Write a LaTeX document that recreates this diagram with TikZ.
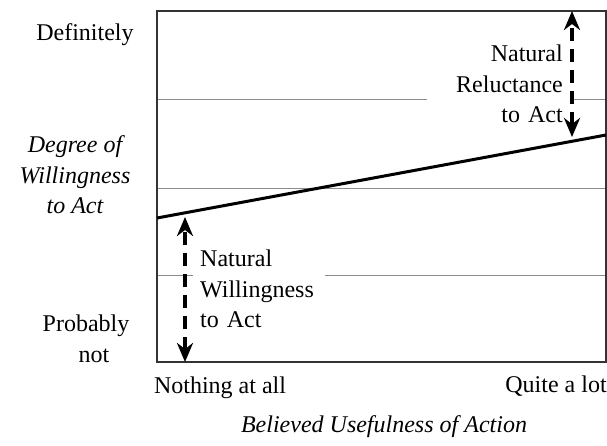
\documentclass[tikz,border=0pt]{standalone}
\usepackage{fontspec}
\setmainfont{Liberation Serif}
\usepackage{tikz}
\usetikzlibrary{arrows.meta,positioning}

\begin{document}
\begin{tikzpicture}[
    x=1pt, y=-1pt,
    label/.style={align=center, inner sep=0pt, font=\fontsize{24}{30.5}\selectfont},
    axistitle/.style={label, font=\fontsize{24}{30.5}\selectfont\itshape},
    note/.style={fill=white, inner xsep=7pt, inner ysep=4pt, font=\fontsize{24}{30.5}\selectfont},
    gridline/.style={draw=black!45, line width=0.7pt},
    frame/.style={draw=black!80, line width=1.2pt},
    trend/.style={draw=black, line width=3pt},
    gap/.style={draw=black, line width=3.5pt, dash pattern=on 13pt off 8pt, {Stealth[length=19pt, width=16pt, inset=6pt]}-{Stealth[length=19pt, width=16pt, inset=6pt]}},
]
    \useasboundingbox (0,0) rectangle (607,445);

    % Grid lines
    \foreach \y in {99, 188, 275} {
        \draw[gridline] (157,\y) -- (606,\y);
    }

    % Notes inside the plot
    \node[note, anchor=west, text width=118pt, align=left] (willing) at (193,289) {Natural\\Willingness\\to Act};
    \node[note, anchor=east, inner xsep=10pt, text width=126pt, align=right] (reluct) at (573,84) {Natural\hspace*{8pt}\\Reluctance\\to Act\hspace*{8pt}};

    % Frame
    \draw[frame] (157,11) rectangle (606,362);

    % Trend line
    \coordinate (lineL) at (157,218);
    \coordinate (lineR) at (606,135);
    \draw[trend] (lineL) -- (lineR);

    % Arrows
    \coordinate (wtop) at (185,217);
    \coordinate (wbot) at (185,362);
    \coordinate (rtop) at (572,11);
    \coordinate (rbot) at (572,137);
    \draw[gap] (wbot) -- (wtop);
    \draw[gap] (rbot) -- (rtop);

    % Axis labels
    \node[label] (defin) at (85,35) {Definitely};
    \node[axistitle] (degree) at (75,175) {Degree of\\Willingness\\to Act};
    \node[label] (probnot) at (86,339) {Probably\\\hspace*{16pt}not};
    \node[label] (nothing) at (220,388) {Nothing at all};
    \node[label] (quite) at (556,386) {Quite a lot};
    \node[axistitle] (useful) at (384,427) {Believed Usefulness of Action};
\end{tikzpicture}
\end{document}
